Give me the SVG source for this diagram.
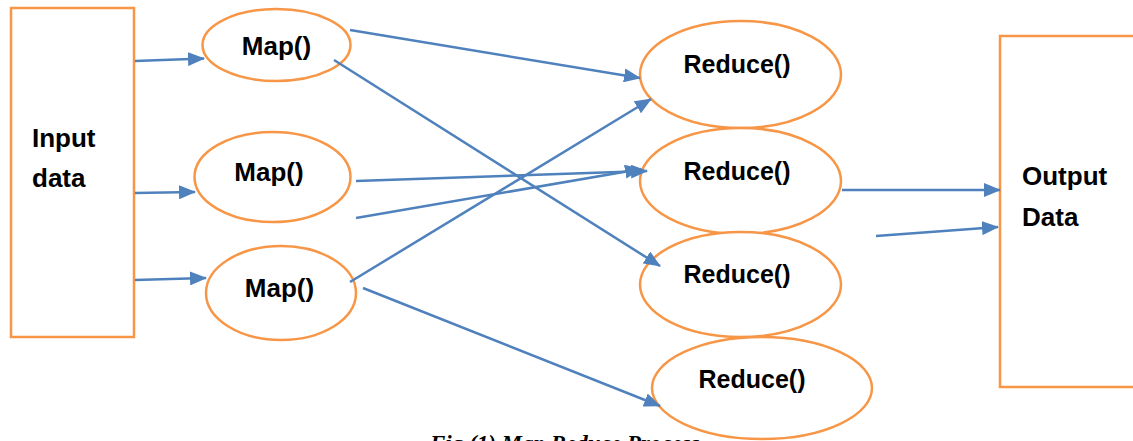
<svg xmlns="http://www.w3.org/2000/svg" width="1133" height="441" viewBox="0 0 1133 441">
<defs>
<style>
.box{fill:#fff;stroke:#F79646;stroke-width:2.5}
.node{fill:#fff;stroke:#F79646;stroke-width:2.5}
.lbl{font-family:"Liberation Sans",Arial,sans-serif;font-weight:bold;font-size:26px;fill:#000}
.r{font-size:25px}
.c{text-anchor:middle}
.edge{stroke:#4F81BD;stroke-width:2.5;fill:none;marker-end:url(#ah)}
.cap{font-family:"Liberation Serif","Times New Roman",serif;font-weight:bold;font-style:italic;font-size:23px;fill:#000}
</style>
<marker id="ah" markerUnits="userSpaceOnUse" markerWidth="17" markerHeight="14" refX="16" refY="7" orient="auto">
<path d="M0,0 L17,7 L0,14 z" fill="#4F81BD"/>
</marker>
</defs>
<rect width="1133" height="441" fill="#fff"/>
<g id="input">
<rect class="box" x="11" y="8" width="123" height="329"/>
<text class="lbl" x="32" y="147">Input</text>
<text class="lbl" x="32" y="187">data</text>
</g>
<g id="output">
<rect class="box" x="1000" y="36" width="150" height="351"/>
<text class="lbl" x="1022" y="185">Output</text>
<text class="lbl" x="1022" y="226">Data</text>
</g>
<g id="map1">
<ellipse class="node" cx="276.5" cy="45" rx="74" ry="36"/>
<text class="lbl c" x="276.5" y="55">Map()</text>
</g>
<g id="map2">
<ellipse class="node" cx="272.5" cy="177" rx="78" ry="45"/>
<text class="lbl c" x="269" y="181">Map()</text>
</g>
<g id="map3">
<ellipse class="node" cx="281" cy="293" rx="75" ry="47"/>
<text class="lbl c" x="279.5" y="297">Map()</text>
</g>
<g id="reduce1">
<ellipse class="node" cx="740.5" cy="74.5" rx="100.5" ry="53.5"/>
<text class="lbl r c" x="737" y="73">Reduce()</text>
</g>
<g id="reduce2">
<ellipse class="node" cx="740.5" cy="181" rx="100.5" ry="53"/>
<text class="lbl r c" x="737" y="180">Reduce()</text>
</g>
<g id="reduce3">
<ellipse class="node" cx="740.5" cy="284.5" rx="100.5" ry="52.5"/>
<text class="lbl r c" x="737" y="283">Reduce()</text>
</g>
<g id="reduce4">
<ellipse class="node" cx="762" cy="388" rx="110" ry="51"/>
<text class="lbl r c" x="752" y="388">Reduce()</text>
</g>
<g id="connectors">
<line class="edge" x1="135" y1="61" x2="204" y2="58.5"/>
<line class="edge" x1="135" y1="193" x2="195" y2="192"/>
<line class="edge" x1="135" y1="280" x2="206" y2="278"/>
<line class="edge" x1="350" y1="30" x2="640" y2="78"/>
<line class="edge" x1="334" y1="60" x2="660" y2="266"/>
<line class="edge" x1="356" y1="181" x2="647" y2="171"/>
<line class="edge" x1="356" y1="218" x2="641" y2="169"/>
<line class="edge" x1="350" y1="282" x2="651" y2="99"/>
<line class="edge" x1="363" y1="288" x2="660" y2="406"/>
<line class="edge" x1="842" y1="190" x2="1000" y2="190"/>
<line class="edge" x1="876" y1="236" x2="998" y2="227"/>
</g>
<text class="cap" x="430" y="451">Fig (1) Map Reduce Process</text>
</svg>
